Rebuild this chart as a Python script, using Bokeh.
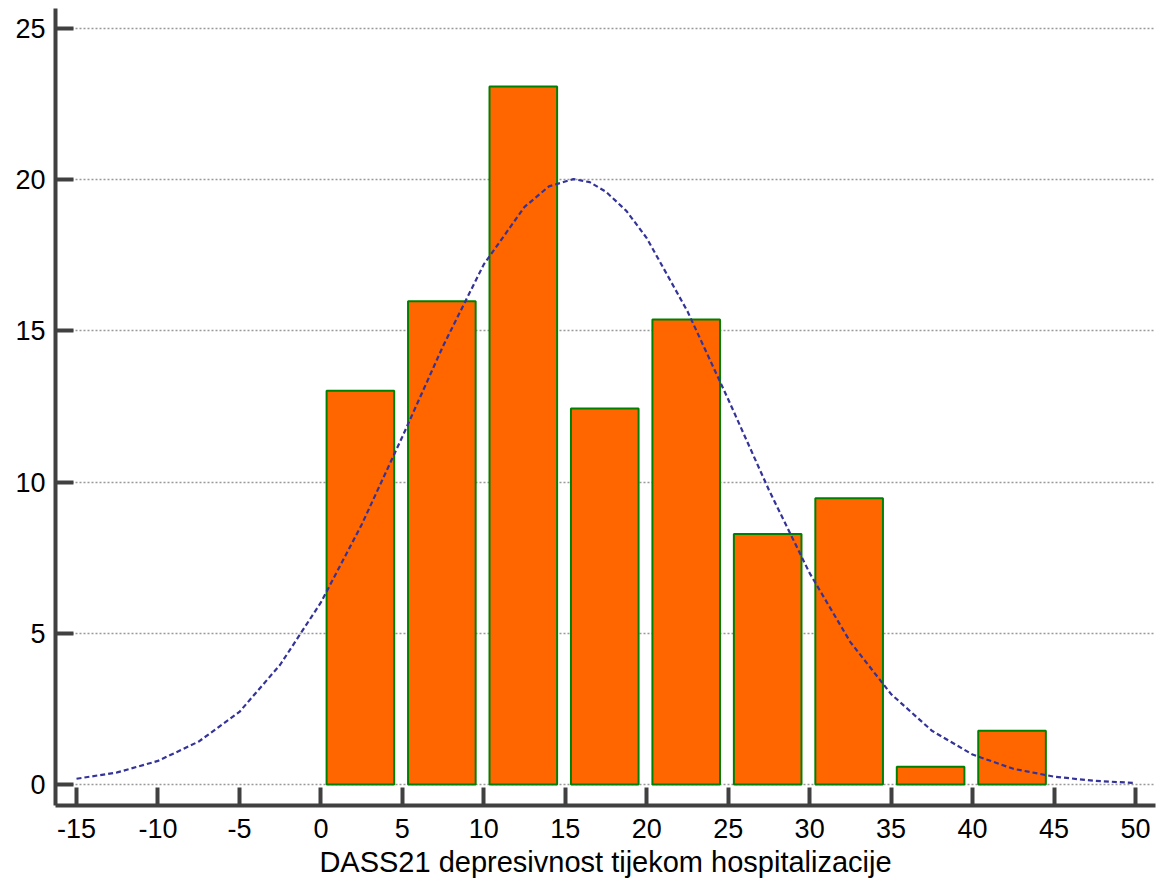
from bokeh.plotting import figure
from bokeh.models import Range1d, FixedTicker
from bokeh.embed import file_html
from bokeh.resources import INLINE

# ---- data ----
bin_starts = [0, 5, 10, 15, 20, 25, 30, 35, 40]
bin_percent = [13.02, 15.98, 23.08, 12.43, 15.38, 8.28, 9.47, 0.59, 1.78]

curve_x = [-15, -12.5, -10, -7.5, -5, -2.5, 0, 2.5, 5, 7.5, 10, 12.5, 14, 15.5,
           16.5, 17.5, 18.75, 20, 22.5, 25, 27.5, 30, 32.5, 35, 37.5, 40, 42.5,
           45, 47.5, 50]
curve_y = [0.19, 0.40, 0.78, 1.42, 2.40, 3.96, 6.02, 8.59, 11.50, 14.50, 17.20,
           19.10, 19.78, 20.02, 19.92, 19.60, 18.97, 18.07, 15.65, 12.74, 9.74,
           6.99, 4.71, 2.99, 1.78, 0.99, 0.52, 0.26, 0.12, 0.05]

x_ticks = [-15, -10, -5, 0, 5, 10, 15, 20, 25, 30, 35, 40, 45, 50]
y_ticks = [0, 5, 10, 15, 20, 25]
x_label = "DASS21 depresivnost tijekom hospitalizacije"

FONT = "Liberation Sans"

p = figure(width=1158, height=886, output_backend="svg", toolbar_location=None,
           x_range=Range1d(-16.29, 51.23), y_range=Range1d(-0.694, 25.661),
           min_border_left=55, min_border_right=3, min_border_top=8,
           min_border_bottom=81)
p.outline_line_color = None
p.background_fill_color = "white"
p.border_fill_color = "white"

# grid
p.xgrid.visible = False
p.ygrid.ticker = FixedTicker(ticks=y_ticks)
p.ygrid.grid_line_color = "#999999"
p.ygrid.grid_line_width = 1.6
p.ygrid.grid_line_dash = "2 2"

# axes
for ax in (p.xaxis[0], p.yaxis[0]):
    ax.axis_line_color = "#404040"
    ax.axis_line_width = 4
    ax.major_tick_line_color = "#404040"
    ax.major_tick_line_width = 4
    ax.major_tick_in = 18
    ax.major_tick_out = 0
    ax.minor_tick_line_color = None
    ax.major_label_text_font = FONT
    ax.major_label_text_font_size = "27px"
    ax.major_label_text_color = "black"

p.xaxis[0].ticker = FixedTicker(ticks=x_ticks)
p.xaxis[0].major_label_overrides = {t: str(t) for t in x_ticks}
p.xaxis[0].major_label_standoff = 13
p.xaxis[0].axis_label = x_label
p.xaxis[0].axis_label_text_font = FONT
p.xaxis[0].axis_label_text_font_size = "29px"
p.xaxis[0].axis_label_text_font_style = "normal"
p.xaxis[0].axis_label_text_color = "black"
p.xaxis[0].axis_label_standoff = 5

p.yaxis[0].ticker = FixedTicker(ticks=y_ticks)
p.yaxis[0].major_label_overrides = {t: str(t) for t in y_ticks}
p.yaxis[0].major_label_standoff = 10

# bars
lefts = [s + 0.35 for s in bin_starts]
rights = [s + 4.5 for s in bin_starts]
p.quad(left=lefts, right=rights, bottom=0, top=bin_percent,
       fill_color="#FF6600", line_color="#008000", line_width=2)

# normal curve
p.line(curve_x, curve_y, line_color="#333399", line_width=2.2, line_dash="5 3")

open("out.html", "w").write(file_html(p, INLINE))
